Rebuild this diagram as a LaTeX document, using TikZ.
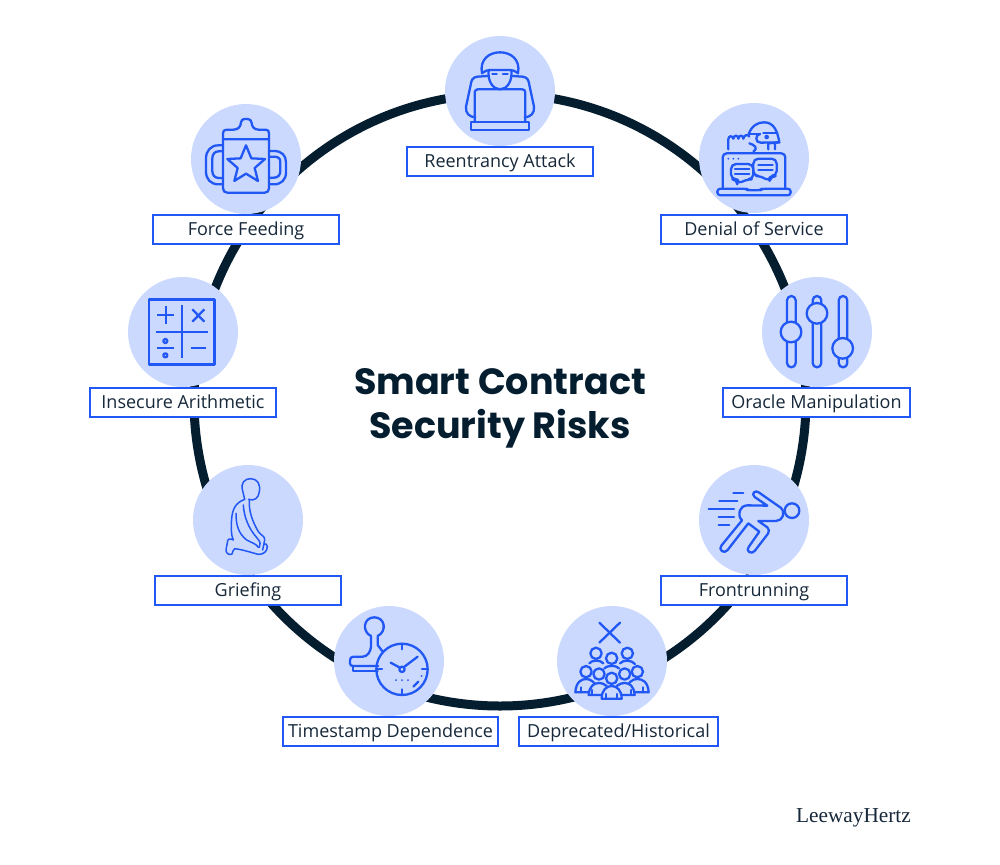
\documentclass[tikz,border=0pt]{standalone}
\usepackage{fontspec}
\setmainfont{Open Sans}
\newfontfamily\titlefont{Poppins}
\newfontfamily\logofont{Liberation Serif}
\definecolor{ringcol}{HTML}{041E30}
\definecolor{discfill}{HTML}{CBD9FF}
\definecolor{iconblue}{HTML}{2158F5}
\definecolor{inkcol}{HTML}{16283A}
\tikzset{
  x=1pt,y=-1pt,
  disc/.style={circle,fill=discfill,minimum size=110pt,inner sep=0pt},
  labelbox/.style={draw=iconblue,line width=2.2pt,fill=white,text=inkcol,minimum height=29pt,inner sep=0pt,text height=14pt,text depth=3pt,font=\fontsize{18}{20}\selectfont},
  zoomed/.style 2 args={shift={(#1,#2)},x=0.33333pt,y=-0.33333pt},
  iconline/.style={draw=iconblue,line width=2.3pt,line join=round,line cap=round},
  bg/.style={fill=discfill},
}
\begin{document}
\begin{tikzpicture}
\useasboundingbox (0,0) rectangle (1000,864);
\fill[white] (0,0) rectangle (1000,864);
\draw[ringcol,line width=9pt] (500,400) circle[radius=306pt];
% discs
\node[disc] (d1) at (500,91) {};
\node[disc] (d2) at (754,158) {};
\node[disc] (d3) at (817,332) {};
\node[disc] (d4) at (754,520) {};
\node[disc] (d5) at (612,661) {};
\node[disc] (d6) at (389,661) {};
\node[disc] (d7) at (248,520) {};
\node[disc] (d8) at (183,332) {};
\node[disc] (d9) at (246,159) {};
% labels
\node[labelbox,minimum width=186pt] (l1) at (500,161.5) {Reentrancy Attack};
\node[labelbox,minimum width=186pt] (l2) at (754,229.5) {Denial of Service};
\node[labelbox,minimum width=187pt] (l3) at (816.5,402.5) {Oracle Manipulation};
\node[labelbox,minimum width=186pt] (l4) at (754,590.5) {Frontrunning};
\node[labelbox,minimum width=199pt] (l5) at (618.5,731.5) {Deprecated/Historical};
\node[labelbox,minimum width=215pt] (l6) at (390.5,731.5) {Timestamp Dependence};
\node[labelbox,minimum width=186pt] (l7) at (248,590.5) {Griefing};
\node[labelbox,minimum width=186pt] (l8) at (183,402.5) {Insecure Arithmetic};
\node[labelbox,minimum width=186pt] (l9) at (246,229.5) {Force Feeding};
% title
\node[text=ringcol,align=center,font=\titlefont\bfseries\fontsize{36.5}{44}\selectfont] (title) at (500,408) {Smart Contract\\Security Risks};
\node[text=inkcol,anchor=east,inner sep=0pt,font=\logofont\fontsize{21.3}{24}\selectfont] (logo) at (911,818) {LeewayHertz};
% icon 1 hacker
\begin{scope}[zoomed={400}{20},iconline]
\draw (246,160) .. controls (238,118) and (268,97) .. (300,97) .. controls (332,97) and (362,118) .. (354,160) .. controls (345,152) and (335,150) .. (330,150) -- (270,150) .. controls (265,150) and (255,152) .. (246,160);
\draw (266,150) .. controls (262,185) and (280,208) .. (300,208) .. controls (320,208) and (338,185) .. (334,150);
\draw (277,162) -- (290,162) (309,162) -- (323,162);
\draw (262,168) -- (232,170) .. controls (218,172) and (214,180) .. (212,195) -- (198,260) .. controls (196,280) and (208,291) .. (226,292);
\draw (338,168) -- (368,170) .. controls (382,172) and (386,180) .. (388,195) -- (402,260) .. controls (404,280) and (392,291) .. (374,292);
\draw[rounded corners=3pt] (224,305) -- (224,208) -- (376,208) -- (376,305);
\draw (214,305) -- (386,305) -- (386,330) -- (214,330) -- cycle;
\end{scope}
% icon 2 DoS
\begin{scope}[zoomed={660}{90},iconline]
\draw (205,178) -- (205,148) .. controls (205,136) and (218,136) .. (220,146) .. controls (222,134) and (234,134) .. (235,146) .. controls (237,134) and (249,134) .. (250,146) .. controls (252,134) and (264,132) .. (268,140);
\draw (265,135) .. controls (275,105) and (295,97) .. (312,97) .. controls (340,97) and (352,120) .. (358,157) -- (325,160) -- (325,178) (345,160) -- (345,178);
\draw (268,132) -- (300,132) (352,130) -- (310,130);
\draw (300,132) .. controls (285,132) and (285,160) .. (302,158) -- (358,157);
\fill[iconblue] (320,141) circle[radius=7];
\draw (268,160) .. controls (285,165) and (295,175) .. (280,185);
\draw[rounded corners=4pt] (188,295) -- (188,190) -- (376,190) -- (376,295);
\draw[rounded corners=3pt] (172,296) -- (258,296) -- (265,301) -- (300,301) -- (307,296) -- (392,296) -- (392,316) -- (172,316) -- cycle;
\fill[iconblue] (205,206) circle[radius=3] (220,206) circle[radius=3] (235,206) circle[radius=3];
\draw[rounded corners=5pt] (280,206) -- (350,206) -- (350,258) -- (332,258) -- (328,275) -- (303,258) -- (280,258) -- cycle;
\draw[rounded corners=5pt,bg] (213,222) -- (280,222) -- (280,268) -- (260,268) -- (232,283) -- (232,268) -- (213,268) -- cycle;
\draw (295,226) -- (338,226) (295,240) -- (338,240);
\draw (225,238) -- (268,238) (225,252) -- (268,252);
\end{scope}
% icon 3 sliders
\begin{scope}[zoomed={720}{270},iconline]
\draw (201,91) arc[start angle=180,end angle=360,radius=13] -- (227,279) arc[start angle=0,end angle=180,radius=13] -- cycle;
\draw (278,91) arc[start angle=180,end angle=360,radius=13] -- (304,279) arc[start angle=0,end angle=180,radius=13] -- cycle;
\draw (356,91) arc[start angle=180,end angle=360,radius=13] -- (382,279) arc[start angle=0,end angle=180,radius=13] -- cycle;
\draw[bg] (213,186) circle[radius=31];
\draw[bg] (291,130) circle[radius=31];
\draw[bg] (368,235) circle[radius=31];
\end{scope}
% icon 4 runner
\begin{scope}[zoomed={660}{455},iconline]
\draw (220,113) -- (250,113) (178,137) -- (232,137) (146,161) -- (222,161) (176,186) -- (222,186) (176,210) -- (208,210);
\draw (396,167) circle[radius=22];
\draw (322,152) -- (284,126) .. controls (272,116) and (286,104) .. (296,112) -- (362,158) .. controls (378,172) and (368,198) .. (348,198) -- (295,198) -- (322,217) .. controls (328,222) and (328,230) .. (324,236) -- (284,288) .. controls (274,300) and (256,288) .. (266,276) -- (298,230) -- (265,205) -- (202,286) .. controls (192,298) and (174,284) .. (184,272) -- (246,196) .. controls (230,180) and (238,152) .. (262,151) -- cycle;
\end{scope}
% icon 5 people
\begin{scope}[zoomed={520}{600},iconline]
\draw (238,68) -- (300,128) (300,68) -- (238,128);
\draw (228,160) circle[radius=17];
\draw (322,160) circle[radius=17];
\draw (275,175) circle[radius=17];
\draw (208,190) .. controls (215,180) and (240,178) .. (250,190);
\draw (300,190) .. controls (310,178) and (335,180) .. (345,192);
\draw (253,205) .. controls (262,195) and (288,195) .. (297,205);
\draw (198,215) circle[radius=17];
\draw (352,215) circle[radius=17];
\draw[bg] (166,277) .. controls (168,245) and (185,237) .. (198,237) .. controls (212,237) and (228,245) .. (232,277) -- cycle;
\draw[bg] (386,277) .. controls (384,245) and (367,237) .. (352,237) .. controls (338,237) and (322,245) .. (318,277) -- cycle;
\draw (237,222) circle[radius=17];
\draw (314,222) circle[radius=17];
\draw[bg] (206,285) .. controls (208,258) and (222,249) .. (237,249) .. controls (252,249) and (268,258) .. (270,285) -- cycle;
\draw[bg] (344,285) .. controls (342,258) and (328,249) .. (314,249) .. controls (298,249) and (282,258) .. (280,285) -- cycle;
\draw[bg] (275,235) circle[radius=17];
\draw[bg] (245,296) .. controls (245,270) and (260,258) .. (275,258) .. controls (290,258) and (305,270) .. (305,296) -- cycle;
\draw (182,262) -- (182,277) (216,270) -- (216,285) (258,282) -- (258,296) (292,282) -- (292,296) (334,270) -- (334,285) (370,262) -- (370,277);
\end{scope}
% icon 6 stamp clock
\begin{scope}[zoomed={280}{600},iconline]
\draw (273,108) .. controls (245,95) and (250,52) .. (283,52) .. controls (316,52) and (321,95) .. (293,108) -- (293,135) -- (308,155);
\draw (273,108) -- (273,140) .. controls (272,155) and (262,170) .. (248,170) -- (220,170) .. controls (212,170) and (210,175) .. (210,182) -- (210,190) .. controls (210,196) and (214,198) .. (220,198) -- (295,198);
\draw (218,198) -- (218,212) -- (293,212);
\draw (366,208) circle[radius=77];
\draw (366,131) -- (366,148) (366,268) -- (366,285) (289,208) -- (306,208) (426,208) -- (443,208);
\draw (366,208) circle[radius=8];
\draw (358,202) -- (332,188) (372,201) -- (413,170);
\draw (400,260) -- (415,245);
\fill[iconblue] (348,240) circle[radius=3] (366,240) circle[radius=3] (384,240) circle[radius=3] (425,228) circle[radius=3];
\end{scope}
% icon 7 kneeling
\begin{scope}[zoomed={150}{460},iconline,line width=1.5pt]
\draw (284,118) .. controls (280,108) and (282,102) .. (278,92) .. controls (270,70) and (285,55) .. (302,56) .. controls (322,56) and (332,72) .. (328,95) .. controls (326,115) and (312,124) .. (296,118);
\draw (284,118) .. controls (258,128) and (248,145) .. (245,175) .. controls (243,205) and (243,225) .. (250,240) .. controls (240,234) and (232,236) .. (232,248) .. controls (232,255) and (228,262) .. (228,270) .. controls (228,282) and (240,286) .. (246,282) .. controls (252,276) and (246,268) .. (254,266) .. controls (275,268) and (305,278) .. (325,283) .. controls (340,284) and (352,274) .. (352,260) .. controls (352,252) and (346,250) .. (342,252);
\draw (298,120) .. controls (296,150) and (305,180) .. (325,215) .. controls (335,228) and (345,228) .. (344,240) .. controls (343,250) and (340,258) .. (338,270);
\draw (280,135) .. controls (282,170) and (295,205) .. (322,235) .. controls (332,245) and (332,255) .. (328,262);
\draw (258,160) .. controls (258,195) and (265,220) .. (290,240) .. controls (305,248) and (320,252) .. (325,262);
\end{scope}
% icon 8 arithmetic
\begin{scope}[zoomed={85}{270},iconline,line cap=butt]
\draw[line width=2.5pt] (192,88) rectangle (388,284);
\draw (291,105) -- (291,265) (212,185) -- (370,185);
\draw (216,135) -- (268,135) (242,109) -- (242,161);
\draw (322,118) -- (358,155) (358,118) -- (322,155);
\draw (216,235) -- (268,235) (318,235) -- (362,235);
\draw (241,213) circle[radius=6] (241,256) circle[radius=6];
\end{scope}
% icon 9 cup
\begin{scope}[zoomed={150}{95},iconline]
\draw (219,133) -- (219,115) .. controls (219,108) and (222,104) .. (230,104) -- (250,104) .. controls (265,104) and (272,95) .. (273,82) .. controls (274,75) and (278,72) .. (284,72) -- (293,72) .. controls (300,72) and (304,76) .. (305,84) .. controls (306,95) and (312,104) .. (326,104) -- (347,104) .. controls (354,104) and (357,108) .. (357,115) -- (357,133) -- cycle;
\draw (219,133) -- (219,280) .. controls (219,288) and (224,293) .. (232,293) -- (344,293) .. controls (352,293) and (357,288) .. (357,280) -- (357,133);
\draw (288,151) -- (304,190) -- (345,192) -- (314,219) -- (324,258) -- (288,236) -- (253,258) -- (263,219) -- (232,192) -- (272,190) -- cycle;
\draw (219,151) -- (205,151) .. controls (182,151) and (168,168) .. (168,190) -- (168,230) .. controls (168,252) and (182,268) .. (205,268) -- (219,268);
\draw (219,169) -- (206,169) .. controls (194,169) and (187,178) .. (187,190) -- (187,228) .. controls (187,240) and (194,249) .. (206,249) -- (219,249);
\draw (357,168) -- (372,168) .. controls (396,168) and (408,182) .. (408,202) -- (408,232) .. controls (408,254) and (394,268) .. (372,268) -- (357,268);
\draw (357,248) -- (372,248) .. controls (384,248) and (391,240) .. (391,228) -- (391,200) .. controls (391,190) and (384,185) .. (372,185) -- (357,185);
\end{scope}
\end{tikzpicture}
\end{document}
